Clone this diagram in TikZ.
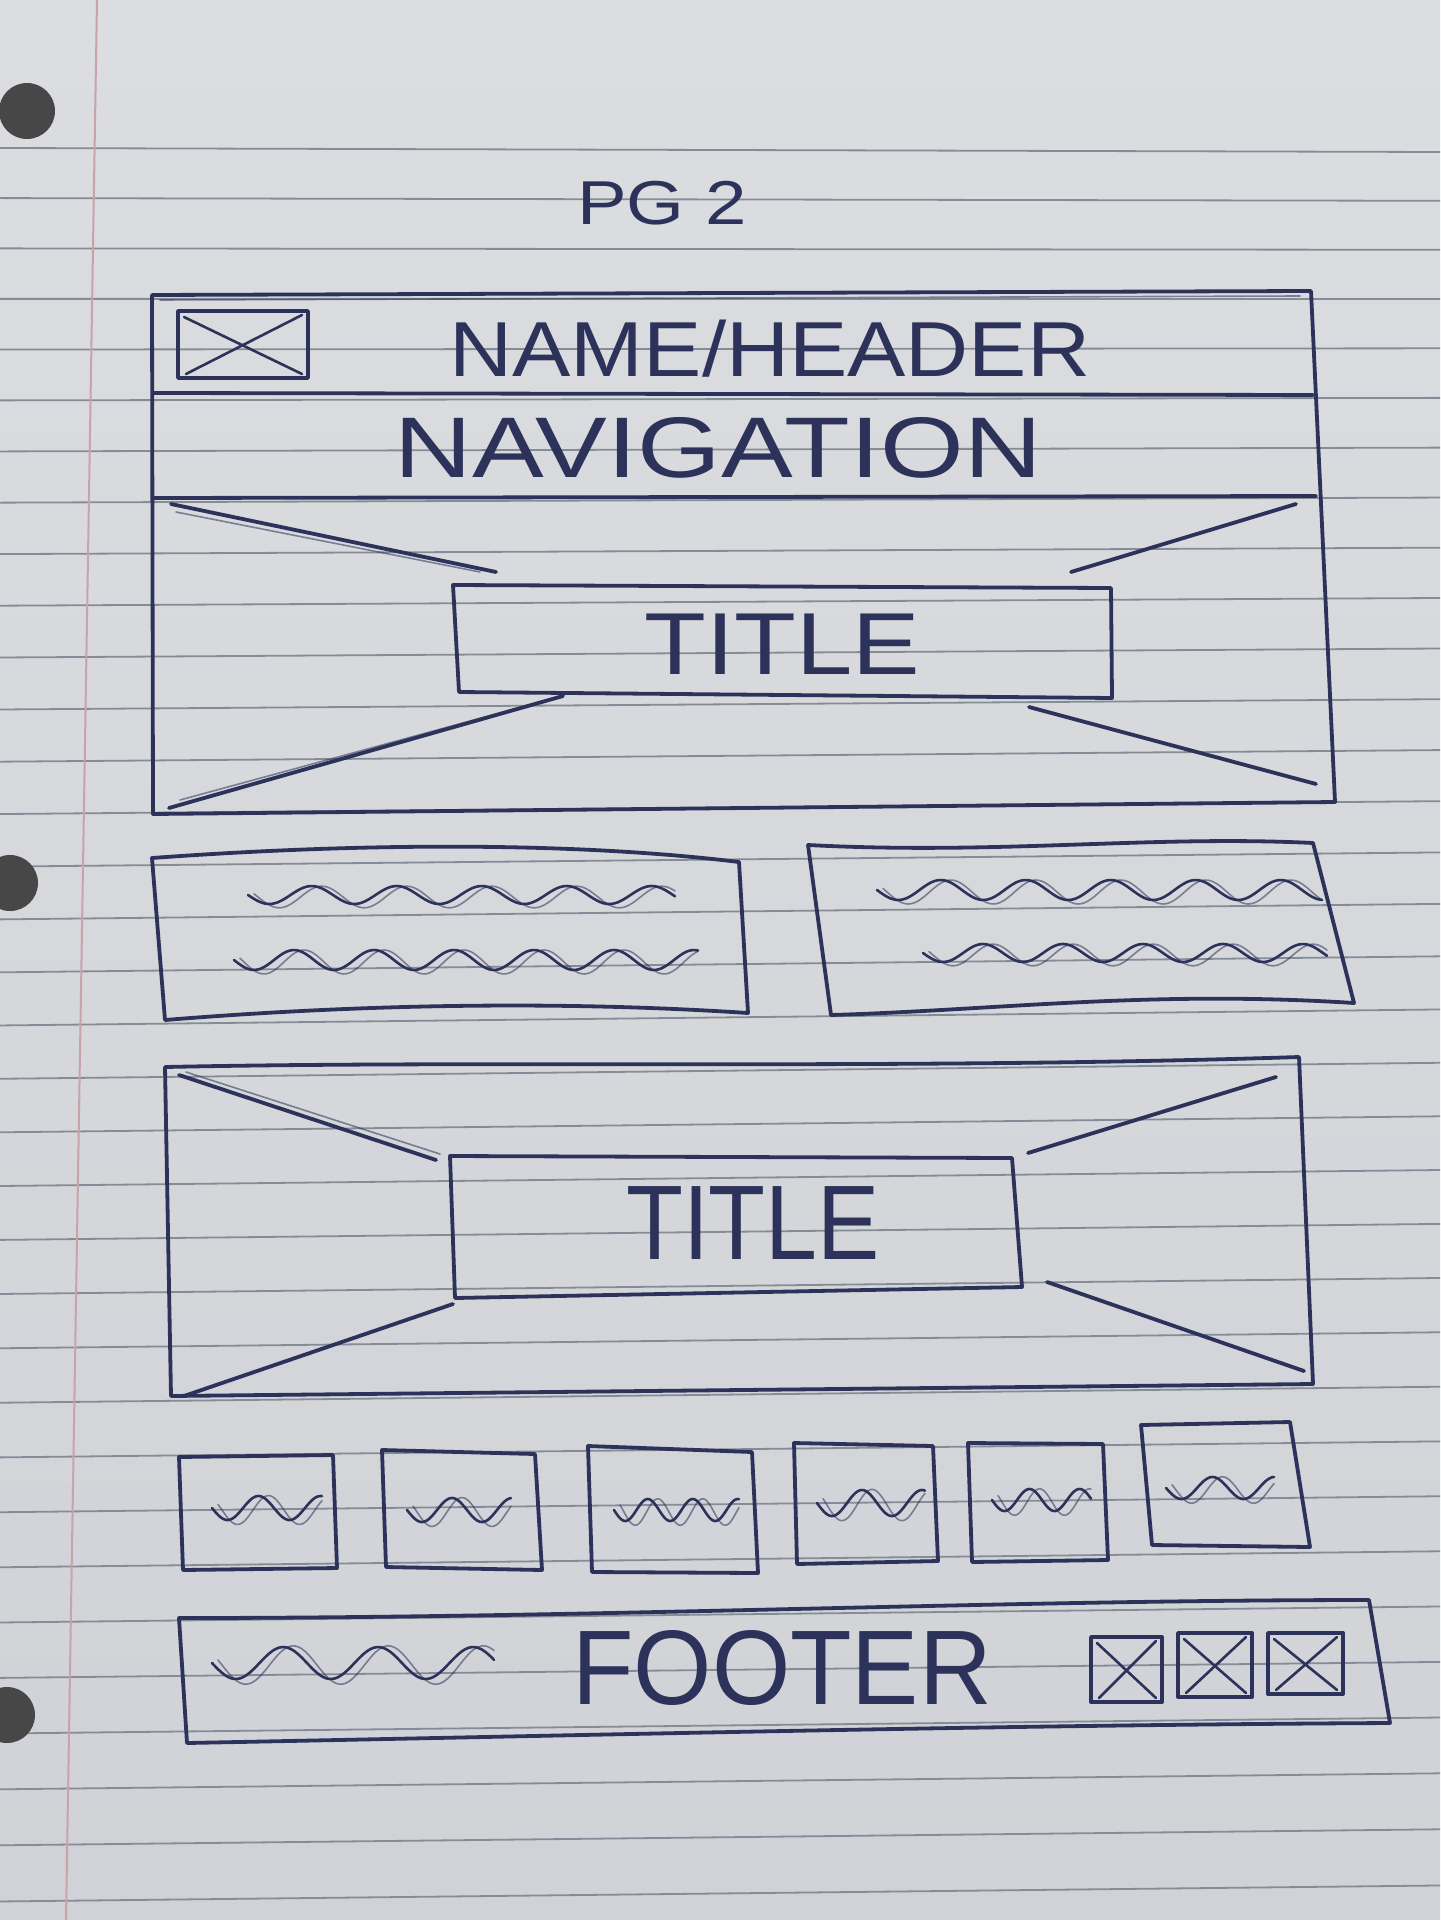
\documentclass[tikz,border=0pt]{standalone}
\usepackage{fontspec}
\setmainfont{Liberation Sans}
\definecolor{ink}{HTML}{2C3259}
\definecolor{papertop}{HTML}{DCDDE0}
\definecolor{paperbot}{HTML}{D0D2D7}
\definecolor{rulecol}{HTML}{858B97}
\definecolor{margincol}{HTML}{C7A3AA}
\newcommand\squig[5]{%
  \draw[thinpen] plot[domain=#1:#2, samples=90, smooth] (\x,{#3+#4*sin((\x-#1)/#5*360)});
  \draw[pentwo] plot[domain=#1+6:#2, samples=90, smooth] (\x,{#3+2+#4*1.2*sin((\x-#1-10)/#5*360)});
}
\newcommand\xbox[4]{%
  \draw[pen] (#1,#2) rectangle (#3,#4);
  \draw[thinpen] (#1+6,#2+6) -- (#3-6,#4-4);
  \draw[thinpen] (#3-6,#2+4) -- (#1+8,#4-4);
}
\begin{document}
\begin{tikzpicture}[x=0.5pt,y=-0.5pt,
  pen/.style={draw=ink, line width=1.9pt, line cap=round, line join=round},
  pentwo/.style={draw=ink, line width=0.8pt, opacity=0.55, line cap=round, line join=round},
  thinpen/.style={draw=ink, line width=1.3pt, line cap=round, line join=round},
  txt/.style={text=ink, inner sep=0pt, anchor=center},
]
\useasboundingbox (0,0) rectangle (1440,1920);
% paper
\fill[top color=papertop, bottom color=paperbot] (0,0) rectangle (1440,1920);
\foreach \n in {0,...,33} {
  \pgfmathsetmacro\yl{148+50*\n+0.095*\n*\n}
  \pgfmathsetmacro\yr{\yl+max(-16,4-1.3*\n)}
  \draw[rulecol, line width=0.9pt] (0,\yl) -- (1440,\yr);
}
\draw[margincol, line width=1pt] (97,0) -- (66,1920);
\fill[black!72] (27,111) circle (28);
\fill[black!72] (10,883) circle (28);
\fill[black!72] (7,1715) circle (28);

% page label
\node[txt, font=\fontsize{31}{34}\selectfont] (pg) at (662,203) {\scalebox{1.2}[1]{PG 2}};

% ---------- hero 1 ----------
\draw[pen] (152,295) -- (1311,291) -- (1335,802) -- (153,814) -- cycle;
\draw[pentwo] (160,300) -- (1300,296);
\draw[pen] (153,393) -- (1313,395);
\draw[pen] (153,498) -- (1316,496);
\xbox{178}{311}{308}{378}
\node[txt, font=\fontsize{39}{40}\selectfont] (header) at (770,349) {\scalebox{1.12}[1]{NAME/HEADER}};
\node[txt, font=\fontsize{43}{44}\selectfont] (nav) at (718,448) {\scalebox{1.25}[1]{NAVIGATION}};
\draw[pen] (453,585) -- (1111,588) -- (1112,698) -- (459,692) -- cycle;
\node[txt, font=\fontsize{44}{45}\selectfont] (title1) at (782,644) {\scalebox{1.15}[1]{TITLE}};
\draw[pen] (171,504) -- (496,572);
\draw[pen] (1296,504) -- (1071,572);
\draw[pen] (169,808) -- (563,696);
\draw[pen] (1316,784) -- (1029,707);
\draw[pentwo] (176,512) -- (480,572);
\draw[pentwo] (180,800) -- (540,702);

% ---------- two text boxes ----------
\draw[pen] (152,858) .. controls (400,840) and (600,845) .. (739,862) -- (748,1013) .. controls (550,1000) and (350,1005) .. (165,1020) -- cycle;
\squig{248}{675}{895}{9}{85}
\squig{234}{698}{960}{10}{80}
\draw[pen] (808,845) .. controls (1000,855) and (1150,835) .. (1313,843) -- (1354,1003) .. controls (1150,990) and (1000,1010) .. (831,1015);
\draw[pen] (808,845) -- (831,1015);
\squig{877}{1322}{890}{10}{85}
\squig{923}{1327}{953}{9}{80}

% ---------- hero 2 ----------
\draw[pen] (165,1067) .. controls (500,1060) and (900,1070) .. (1299,1057) -- (1313,1384) -- (171,1396) -- cycle;
\draw[pen] (450,1156) -- (1012,1158) -- (1022,1287) -- (455,1298) -- cycle;
\node[txt, font=\fontsize{53}{54}\selectfont] (title2) at (753,1223) {\scalebox{0.88}[1]{TITLE}};
\draw[pen] (179,1075) -- (436,1160);
\draw[pentwo] (186,1072) -- (440,1154);
\draw[pen] (1276,1077) -- (1028,1153);
\draw[pen] (184,1396) -- (453,1304);
\draw[pen] (1304,1371) -- (1047,1282);

% ---------- six small boxes ----------
\draw[pen] (179,1457) -- (333,1455) -- (337,1568) -- (183,1570) -- cycle;
\squig{212}{322}{1508}{12}{62}
\draw[pen] (382,1450) -- (535,1454) -- (542,1570) -- (386,1567) -- cycle;
\squig{407}{511}{1510}{12}{60}
\draw[pen] (588,1446) -- (752,1452) -- (758,1573) -- (592,1572) -- cycle;
\squig{614}{739}{1510}{11}{45}
\draw[pen] (794,1443) -- (933,1446) -- (938,1561) -- (797,1564) -- cycle;
\squig{817}{925}{1503}{13}{60}
\draw[pen] (968,1443) -- (1103,1444) -- (1108,1560) -- (972,1562) -- cycle;
\squig{992}{1091}{1500}{11}{50}
\draw[pen] (1141,1425) -- (1290,1422) -- (1310,1547) -- (1152,1545) -- cycle;
\squig{1166}{1274}{1488}{11}{62}

% ---------- footer ----------
\draw[pen] (179,1618) .. controls (600,1618) and (1000,1600) .. (1369,1600) -- (1390,1723) .. controls (1000,1725) and (600,1735) .. (187,1743) -- cycle;
\squig{212}{494}{1663}{16}{95}
\node[txt, font=\fontsize{53}{54}\selectfont] (footer) at (782,1668) {\scalebox{0.95}[1]{FOOTER}};
\xbox{1091}{1637}{1162}{1702}
\xbox{1178}{1633}{1252}{1697}
\xbox{1268}{1633}{1343}{1694}
\end{tikzpicture}
\end{document}
